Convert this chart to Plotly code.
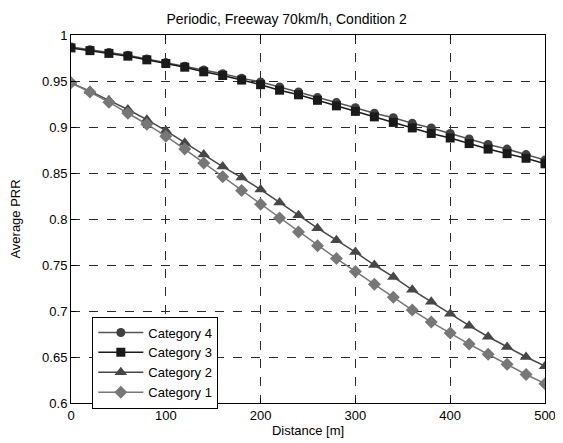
import plotly.graph_objects as go

distance = [0, 20, 40, 60, 80, 100, 120, 140, 160, 180, 200, 220, 240, 260, 280,
            300, 320, 340, 360, 380, 400, 420, 440, 460, 480, 500]

cat4 = [0.987, 0.984, 0.981, 0.978, 0.974, 0.970, 0.966, 0.962, 0.958, 0.953, 0.949,
        0.9435, 0.938, 0.932, 0.9265, 0.921, 0.915, 0.910, 0.904, 0.899, 0.893,
        0.887, 0.881, 0.876, 0.870, 0.864]
cat3 = [0.986, 0.983, 0.980, 0.977, 0.973, 0.969, 0.965, 0.960, 0.956, 0.951, 0.946,
        0.940, 0.935, 0.929, 0.923, 0.917, 0.911, 0.905, 0.899, 0.893, 0.888,
        0.882, 0.876, 0.871, 0.866, 0.860]
cat2 = [0.948, 0.939, 0.929, 0.919, 0.908, 0.896, 0.883, 0.870, 0.857, 0.845, 0.832,
        0.818, 0.804, 0.790, 0.777, 0.764, 0.750, 0.737, 0.723, 0.710, 0.697,
        0.684, 0.672, 0.661, 0.650, 0.640]
cat1 = [0.948, 0.938, 0.927, 0.915, 0.903, 0.890, 0.876, 0.861, 0.846, 0.831, 0.816,
        0.801, 0.786, 0.771, 0.757, 0.743, 0.729, 0.715, 0.701, 0.688, 0.676,
        0.664, 0.653, 0.642, 0.631, 0.621]

x_ticks = [0, 100, 200, 300, 400, 500]
y_ticks = [0.6, 0.65, 0.7, 0.75, 0.8, 0.85, 0.9, 0.95, 1.0]
y_labels = ["0.6", "0.65", "0.7", "0.75", "0.8", "0.85", "0.9", "0.95", "1"]

series = [
    ("Category 4", cat4, "circle", 9, "#404040", "#555555"),
    ("Category 3", cat3, "square", 9, "#1a1a1a", "#1a1a1a"),
    ("Category 2", cat2, "triangle-up", 11, "#474747", "#474747"),
    ("Category 1", cat1, "diamond", 10, "#777777", "#777777"),
]

FONT = "Liberation Sans, Arial"

fig = go.Figure()
for name, vals, sym, size, mcol, lcol in series:
    fig.add_trace(go.Scatter(
        x=distance, y=vals, name=name, mode="lines+markers",
        line=dict(color=lcol, width=1.5),
        marker=dict(symbol=sym, size=size, color=mcol, line=dict(width=0)),
    ))

axis_common = dict(
    showline=True, linecolor="black", linewidth=1, mirror="ticks",
    ticks="inside", ticklen=5, tickcolor="black",
    showgrid=True, gridcolor="#2a2a2a", griddash="dash", gridwidth=1,
    zeroline=False, automargin=False,
    tickfont=dict(family=FONT, size=13, color="black"),
)

fig.update_xaxes(range=[0, 500], tickvals=x_ticks,
                 title=dict(text="Distance [m]", standoff=4,
                            font=dict(family=FONT, size=13, color="black")),
                 **axis_common)
fig.update_yaxes(range=[0.6, 1.0], tickvals=y_ticks, ticktext=y_labels,
                 title=dict(text="Average PRR", standoff=18,
                            font=dict(family=FONT, size=13, color="black")),
                 **axis_common)

# The page body adds an 8px offset, so the figure is sized to the remaining window.
fig.update_layout(
    width=555, height=435,
    margin=dict(l=63, r=18, t=27, b=40),
    paper_bgcolor="white", plot_bgcolor="white",
    title=dict(text="Periodic, Freeway 70km/h, Condition 2", x=0.502, xanchor="center",
               y=0.975, yanchor="middle",
               font=dict(family=FONT, size=14, color="black")),
    legend=dict(x=0.045, y=0.235, xanchor="left", yanchor="top",
                bgcolor="white", bordercolor="black", borderwidth=1,
                font=dict(family=FONT, size=13, color="black"),
                itemwidth=45, tracegroupgap=0),
    showlegend=True,
)

fig.write_html("out.html")
